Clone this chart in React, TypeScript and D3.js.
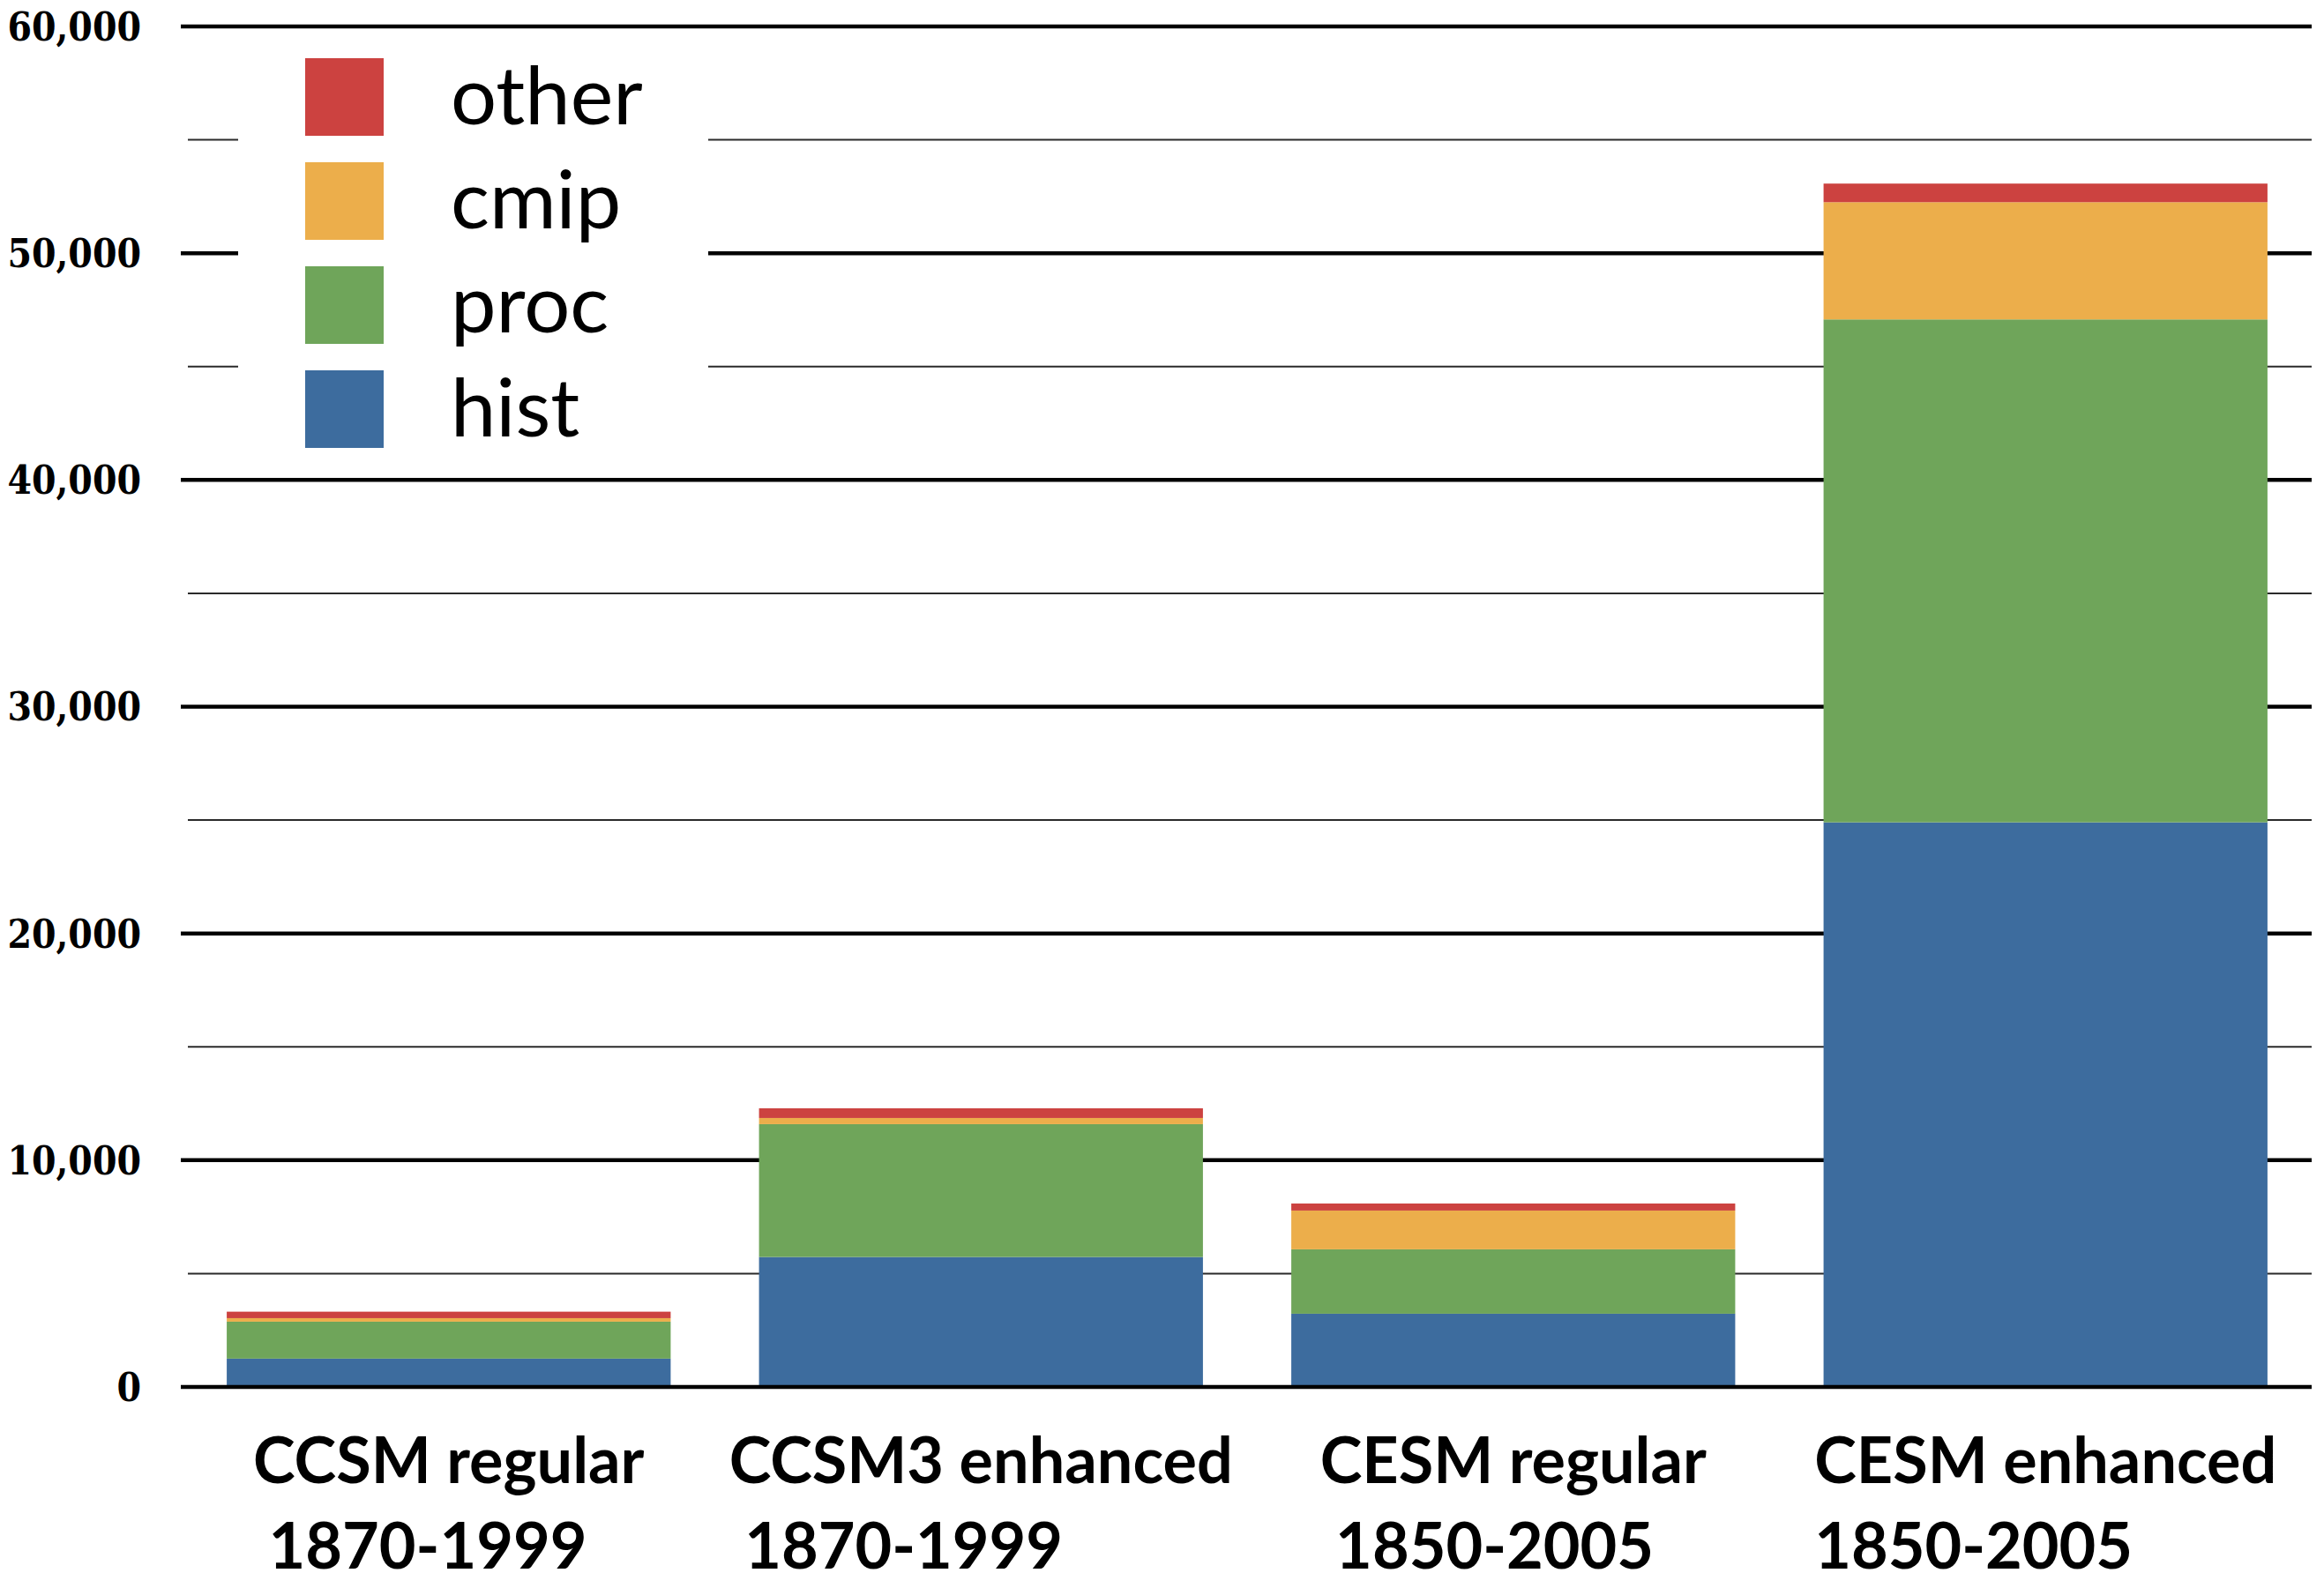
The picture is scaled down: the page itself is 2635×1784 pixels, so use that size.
import * as d3 from "d3"
import { useRef, useLayoutEffect, useState } from "react"

// run categories (two-line labels, second line left-aligned under the first)
const runNames = ["CCSM regular", "CCSM3 enhanced", "CESM regular", "CESM enhanced"]
const runYears = [" 1870-1999", " 1870-1999", " 1850-2005", "1850-2005"]

// stacked series, bottom to top
const seriesKeys = ["hist", "proc", "cmip", "other"]
const hist = [1250, 5730, 3230, 24900]
const proc = [1630, 5860, 2840, 22180]
const cmip = [155, 272, 1710, 5170]
const other = [285, 428, 311, 820]

const majorTicks = [0, 10000, 20000, 30000, 40000, 50000, 60000]
const minorTicks = [5000, 15000, 25000, 35000, 45000, 55000]

const colors: Record<string, string> = {
  hist: "#3d6c9e",
  proc: "#6fa55a",
  cmip: "#ecae4b",
  other: "#cc4240",
}

const width = 2635
const height = 1784
const plotLeft = 207
const plotRight = 2621
const plotBottom = 1573
const plotTop = 30

export default function App() {
  const labelRefs = useRef<(SVGTextElement | null)[]>([])
  const [labelWidths, setLabelWidths] = useState<number[]>(runNames.map(() => 0))

  useLayoutEffect(() => {
    setLabelWidths(labelRefs.current.map((el) => (el ? el.getComputedTextLength() : 0)))
  }, [])

  const rows = runNames.map((name, i) => ({
    name,
    hist: hist[i],
    proc: proc[i],
    cmip: cmip[i],
    other: other[i],
  }))

  const x = d3
    .scaleBand<string>()
    .domain(runNames)
    .range([plotLeft, plotRight])
    .paddingInner(0.166)
    .paddingOuter(0.083)
  const y = d3.scaleLinear().domain([0, 60000]).range([plotBottom, plotTop])

  const stacked = d3.stack<any>().keys(seriesKeys)(rows)
  const fmt = d3.format(",")
  const legendOrder = [...seriesKeys].reverse()

  return (
    <svg
      width={width}
      height={height}
      style={{ position: "absolute", left: 0, top: 0, background: "#fff" }}
    >
      {/* minor grid */}
      <g stroke="#2a2a2a" strokeWidth={2}>
        {minorTicks.map((t) => (
          <line key={t} x1={plotLeft + 6} x2={plotRight} y1={y(t)} y2={y(t)} />
        ))}
      </g>
      {/* major grid */}
      <g stroke="#000" strokeWidth={4.5}>
        {majorTicks.filter((t) => t > 0).map((t) => (
          <line key={t} x1={plotLeft - 2} x2={plotRight} y1={y(t)} y2={y(t)} />
        ))}
      </g>

      {/* bars */}
      {stacked.map((layer) => (
        <g key={layer.key} fill={colors[layer.key]}>
          {layer.map((d, i) => (
            <rect
              key={i}
              x={x(runNames[i])}
              width={x.bandwidth()}
              y={y(d[1])}
              height={y(d[0]) - y(d[1])}
            />
          ))}
        </g>
      ))}

      {/* zero line */}
      <line x1={plotLeft - 2} x2={plotRight} y1={y(0)} y2={y(0)} stroke="#000" strokeWidth={4.5} />

      {/* y labels */}
      <g
        fontFamily="'DejaVu Serif Condensed', 'DejaVu Serif', serif"
        fontWeight="bold"
        fontSize={44}
        style={{ fontStretch: "condensed" }}
        textAnchor="end"
      >
        {majorTicks.map((t) => (
          <text key={t} x={160} y={y(t)} dy="0.36em">
            {fmt(t)}
          </text>
        ))}
      </g>

      {/* x labels */}
      <g fontFamily="Lato, 'Open Sans', sans-serif" fontWeight="bold" fontSize={72}>
        {runNames.map((n, i) => {
          const cx = x(n)! + x.bandwidth() / 2
          const left = cx - labelWidths[i] / 2
          return (
            <g key={n}>
              <text
                ref={(el) => {
                  labelRefs.current[i] = el
                }}
                x={cx}
                y={1682}
                textAnchor="middle"
              >
                {n}
              </text>
              <text x={left} y={1779} style={{ whiteSpace: "pre" }}>
                {runYears[i]}
              </text>
            </g>
          )
        })}
      </g>

      {/* legend */}
      <rect x={270} y={42} width={533} height={488} fill="#fff" />
      <g fontFamily="Lato, 'Open Sans', sans-serif" fontSize={92}>
        {legendOrder.map((k, i) => (
          <g key={k}>
            <rect x={346} y={66 + i * 118} width={89} height={88} fill={colors[k]} />
            <text x={511} y={66 + i * 118 + 75}>
              {k}
            </text>
          </g>
        ))}
      </g>
    </svg>
  )
}
